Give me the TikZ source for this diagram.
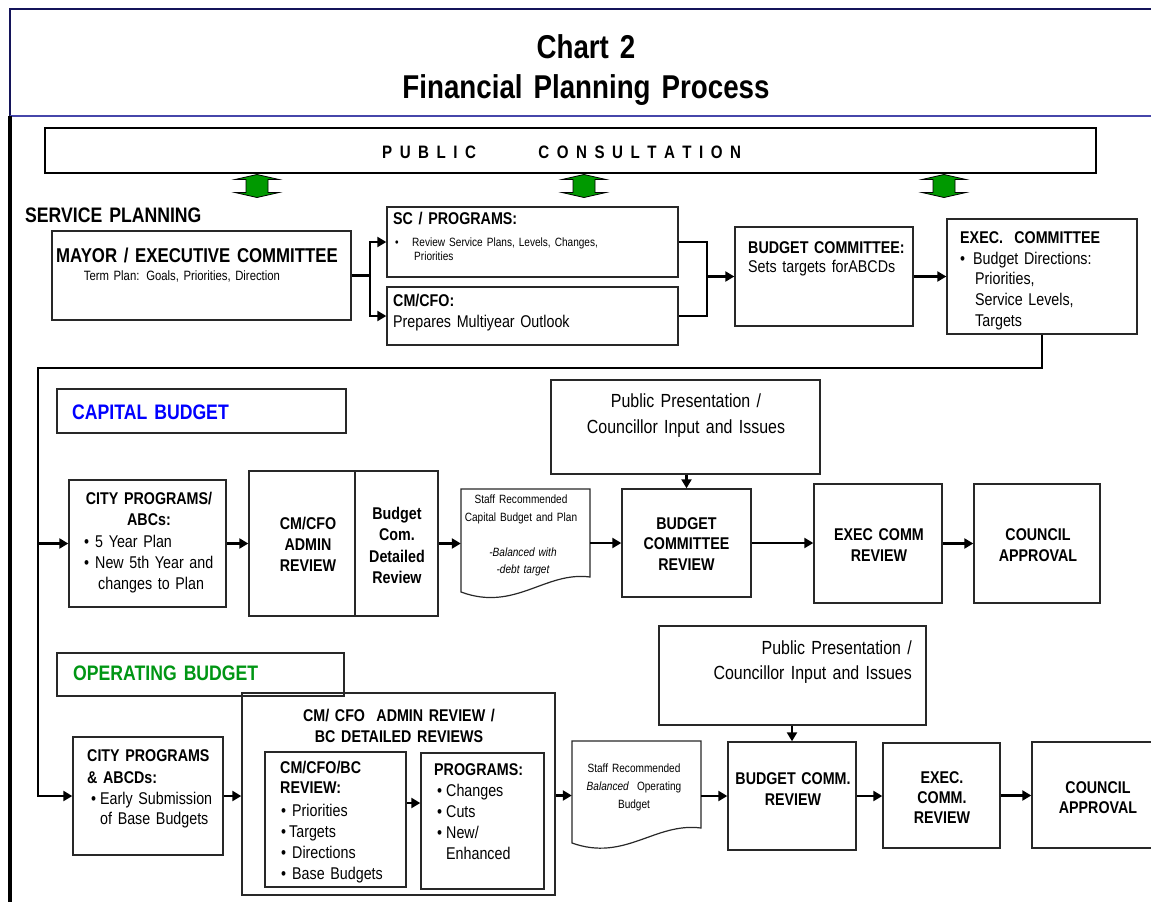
\documentclass[tikz,border=0pt]{standalone}
\usepackage{fontspec}
\setmainfont{Liberation Sans}[FakeStretch=0.84, WordSpace=0.84]
\usetikzlibrary{arrows.meta,fit,calc}
\definecolor{agreen}{RGB}{0,153,0}
\definecolor{tgreen}{RGB}{0,150,20}
\definecolor{tblue}{RGB}{0,0,255}
\definecolor{navyline}{RGB}{20,20,90}
\definecolor{lblue}{RGB}{70,70,170}
\definecolor{bord}{RGB}{40,40,40}
\newcommand\fs[2]{\fontsize{#1}{#2}\selectfont}
\newcommand\trackit[1]{\trackloop#1\relax}
\def\trackloop#1{\ifx#1\relax\else#1\kern7.5pt\expandafter\trackloop\fi}
\newcommand\bul[1]{\makebox[#1pt][l]{\textbullet}}
\tikzset{
  box/.style={draw=bord, line width=1.4pt, inner sep=0pt},
  conn/.style={line width=2.6pt, line join=miter},
  arr/.style={conn, -{Triangle[length=9pt,width=10pt]}},
  ltxt/.style={inner sep=0pt, anchor=base west, align=left, text width=#1},
  ltxt/.default=300pt,
  ctxt/.style={inner sep=0pt, anchor=base, align=center, text width=#1},
  ctxt/.default=300pt,
  rtxt/.style={inner sep=0pt, anchor=base east, align=right, text width=#1},
  rtxt/.default=300pt,
  docline/.style={draw=bord, line width=1.2pt},
}
\newcommand\garrow[2]{%
  \filldraw[fill=agreen, draw=black, line width=0.8pt]
    (#1,#2) ++(0,-11.5) -- ++(22,5) -- ++(-11,0) -- ++(0,13) -- ++(11,0)
    -- ++(-22,5) -- ++(-22,-5) -- ++(11,0) -- ++(0,-13) -- ++(-11,0) -- cycle;}
\begin{document}
\begin{tikzpicture}[x=1pt,y=-1pt]
\useasboundingbox (0,0) rectangle (1151,902);
\fill[white] (0,0) rectangle (1151,902);

% frame
\draw[navyline, line width=2.2pt] (10,116) -- (10,9) -- (1151,9);
\draw[lblue, line width=1.6pt] (10,116) -- (1151,116);
\draw[black, line width=3.5pt] (10,116) -- (10,902);
\node[ctxt=700pt, font=\bfseries\fs{33}{40}] (title) at (586,58) {Chart 2\\Financial Planning Process};

% public consultation
\node[box, draw=black, line width=2pt, fit={(45,128)(1096,173)}] (pub) {};
\node[inner sep=0pt, anchor=base west, font=\bfseries\fs{18}{21}] (pubtxt) at (382,158.5) {\trackit{PUBLIC}\hspace{55pt}\trackit{CONSULTATION}};
\garrow{257}{186}
\garrow{584}{186}
\garrow{944}{186}

% service planning
\node[ltxt, font=\bfseries\fs{21}{25}] (sptxt) at (25,222.5) {SERVICE PLANNING};
\node[box, fit={(52,231)(351,320)}] (mayor) {};
\node[ctxt, font=\bfseries\fs{20}{24}] (mayortxt) at (197,262) {MAYOR / EXECUTIVE COMMITTEE};
\node[ctxt, font=\fs{13.5}{16}] (termtxt) at (182,280) {Term Plan: Goals, Priorities, Direction};

\node[box, fit={(387,207)(678,277)}] (sc) {};
\node[ltxt=280pt, font=\bfseries\fs{17}{21}] (sctxt) at (393,224) {SC / PROGRAMS:};
\node[ltxt=280pt, font=\fs{12}{14.5}] (sclist) at (395,246) {\bul{17}Review Service Plans, Levels, Changes,\\\hspace*{19pt}Priorities};

\node[box, fit={(387,287)(678,345)}] (cmcfo) {};
\node[ltxt=280pt, font=\fs{17}{21}] (cmcfotxt) at (393,306) {\textbf{CM/CFO:}\\Prepares Multiyear Outlook};

\node[box, fit={(735,227)(913,326)}] (bc) {};
\node[ltxt=170pt, font=\fs{17}{19.5}] (bctxt) at (748,253) {\textbf{BUDGET COMMITTEE:}\\Sets targets forABCDs};

\node[box, fit={(947,219)(1137,334)}] (exec) {};
\node[ltxt=180pt, font=\bfseries\fs{17}{21}] (exectxt) at (960,243) {EXEC.\ \ COMMITTEE};
\node[ltxt=180pt, font=\fs{17}{20.7}] (execlist) at (960,264) {\bul{13}Budget Directions:\\\hspace*{15pt}Priorities,\\\hspace*{15pt}Service Levels,\\\hspace*{15pt}Targets};

\coordinate (f1) at (370,275.5);
\draw[arr] (mayor.east) -- (f1) |- (sc.west);
\draw[arr] (f1) |- (cmcfo.west);
\coordinate (j1) at (707,276.5);
\draw[conn] (sc.east) -| (j1) |- (cmcfo.east);
\draw[arr] (j1) -- (bc.west);
\draw[arr] (bc.east) -- (exec.west);

% capital budget
\node[box, fit={(57,389)(346,433)}] (capbox) {};
\node[ltxt, font=\bfseries\fs{21}{25}, text=tblue] (captxt) at (72,419.5) {CAPITAL BUDGET};

\node[box, fit={(551,380)(820,474)}] (pp1) {};
\node[ctxt=260pt, font=\fs{19}{26}] (pp1txt) at (686,407) {Public Presentation /\\Councillor Input and Issues};

\node[box, fit={(69,480)(226,607)}] (capcity) {};
\node[ctxt=150pt, font=\bfseries\fs{17}{21.5}] (capcitytxt) at (149,504) {CITY PROGRAMS/\\ABCs:};
\node[ltxt=150pt, font=\fs{17}{21}] (capcitylist) at (84,547) {\bul{11}5 Year Plan\\\bul{11}New 5th Year and\\\hspace*{14pt}changes to Plan};

\node[box, fit={(249,471)(355,616)}] (cmadmin) {};
\node[ctxt=100pt, font=\bfseries\fs{17}{21}] (cmadmintxt) at (308,529) {CM/CFO\\ADMIN\\REVIEW};
\node[box, fit={(355,471)(438,616)}] (bcdet) {};
\node[ctxt=80pt, font=\bfseries\fs{17}{21.5}] (bcdettxt) at (397,519) {Budget\\Com.\\Detailed\\Review};

\node[inner sep=0pt, fit={(461,489)(590,592)}] (capdoc) {};
\draw[docline] (461,592) -- (461,489) -- (590,489) -- (590,577) .. controls (545,571) and (515,612) .. (461,592) -- cycle;
\node[ctxt=130pt, font=\fs{12}{18}] (capdoctxt) at (521,503) {Staff Recommended\\Capital Budget and Plan};
\node[ctxt=130pt, font=\itshape\fs{12}{17}] (capdoctxt2) at (523,556) {-Balanced with\\-debt target};

\node[box, fit={(622,489)(751,597)}] (bcr) {};
\node[ctxt=128pt, font=\bfseries\fs{17}{20.5}] (bcrtxt) at (686.5,529) {BUDGET\\COMMITTEE\\REVIEW};
\node[box, fit={(814,484)(942,603)}] (ecr) {};
\node[ctxt=128pt, font=\bfseries\fs{17}{21}] (ecrtxt) at (879,540) {EXEC COMM\\REVIEW};
\node[box, fit={(974,484)(1100,603)}] (ca1) {};
\node[ctxt=126pt, font=\bfseries\fs{17}{21}] (ca1txt) at (1038,540) {COUNCIL\\APPROVAL};

% operating budget
\node[box, fit={(242,693)(555,895)}] (cmbig) {};
\node[box, fit={(57,653)(344,696)}] (opbox) {};
\node[ltxt, font=\bfseries\fs{21}{25}, text=tgreen] (optxt) at (73,680.5) {OPERATING BUDGET};

\node[box, fit={(659,626)(926,725)}] (pp2) {};
\node[rtxt=260pt, font=\fs{19}{25}] (pp2txt) at (912,654) {Public Presentation /\\Councillor Input and Issues};

\node[box, fit={(73,737)(223,855)}] (opcity) {};
\node[ltxt=140pt, font=\bfseries\fs{17}{22}] (opcitytxt) at (87,761) {CITY PROGRAMS\\\& ABCDs:};
\node[ltxt=140pt, font=\fs{17}{20}] (opcitylist) at (91,804) {\bul{9}Early Submission\\\hspace*{9pt}of Base Budgets};

\node[ctxt=310pt, font=\bfseries\fs{17}{21}] (cmbigtxt) at (399,721) {CM/ CFO\ \ ADMIN REVIEW /\\BC DETAILED REVIEWS};
\node[box, fit={(265,752)(406,887)}] (inner1) {};
\node[ltxt=140pt, font=\bfseries\fs{17}{20}] (inner1txt) at (280,773) {CM/CFO/BC\\REVIEW:};
\node[ltxt=140pt, font=\fs{17}{21}] (inner1list) at (281,816) {\bul{11}Priorities\\\bul{8}Targets\\\bul{11}Directions\\\bul{11}Base Budgets};
\node[box, fit={(421,753)(544,889)}] (inner2) {};
\node[ltxt=120pt, font=\bfseries\fs{17}{21}] (inner2txt) at (434,775) {PROGRAMS:};
\node[ltxt=120pt, font=\fs{17}{21.3}] (inner2list) at (437,796) {\bul{9}Changes\\\bul{9}Cuts\\\bul{9}New/\\\hspace*{9pt}Enhanced};

\node[inner sep=0pt, fit={(572,741)(701,850)}] (opdoc) {};
\draw[docline] (572,843) -- (572,741) -- (701,741) -- (701,828) .. controls (655,822) and (625,862) .. (572,843) -- cycle;
\node[ctxt=130pt, font=\fs{12}{18}] (opdoctxt) at (634,772) {Staff Recommended\\\textit{Balanced}\ \ Operating\\Budget};

\node[box, fit={(728,742)(856,850)}] (bcomm) {};
\node[ctxt=128pt, font=\bfseries\fs{17}{21}] (bcommtxt) at (793,784) {BUDGET COMM.\\REVIEW};
\node[box, fit={(883,743)(1000,848)}] (ecomm) {};
\node[ctxt=117pt, font=\bfseries\fs{17}{20}] (ecommtxt) at (942,783) {EXEC.\\COMM.\\REVIEW};
\node[box, fit={(1032,742)(1165,848)}] (ca2) {};
\node[ctxt=120pt, font=\bfseries\fs{17}{20}] (ca2txt) at (1098,793) {COUNCIL\\APPROVAL};

% connectors, capital and main feed
\coordinate (lc) at (38,368);
\draw[arr] (exec.south) |- (lc) |- (opcity.west);
\draw[arr] (lc |- capcity.west) -- (capcity.west);
\draw[arr] (capcity.east) -- (cmadmin.west);
\draw[arr] (bcdet.east) -- (capdoc.west |- bcdet.east);
\draw[arr] (capdoc.east |- bcr.west) -- (bcr.west);
\draw[arr] (bcr.north |- pp1.south) -- (bcr.north);
\draw[arr] (bcr.east) -- (ecr.west |- bcr.east);
\draw[arr] (ecr.east) -- (ca1.west);

% connectors, operating
\draw[arr] (opcity.east) -- (cmbig.west |- opcity.east);
\path ([yshift=16.5pt]inner1.east) coordinate (a1);
\draw[arr] (a1) -- (inner2.west |- a1);
\draw[arr] (cmbig.east |- opdoc.west) -- (opdoc.west);
\draw[arr] (opdoc.east |- bcomm.west) -- (bcomm.west);
\draw[arr] (bcomm.north |- pp2.south) -- (bcomm.north);
\draw[arr] (bcomm.east) -- (ecomm.west |- bcomm.east);
\draw[arr] (ecomm.east) -- (ca2.west |- ecomm.east);
\end{tikzpicture}
\end{document}
